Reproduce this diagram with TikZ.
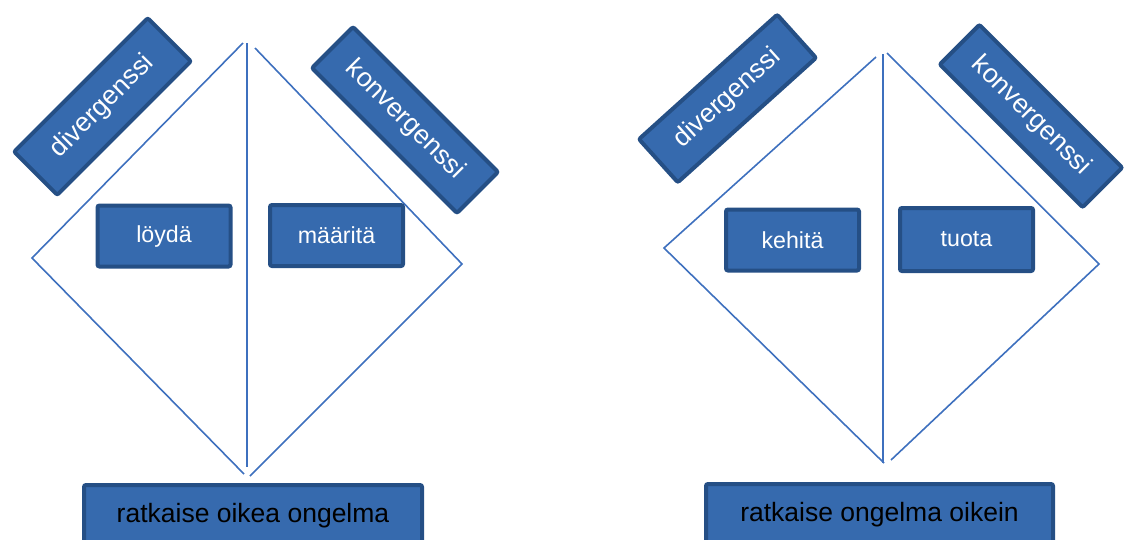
\documentclass[tikz,border=0pt]{standalone}
\usepackage{fontspec}
\setmainfont{Liberation Sans}
\definecolor{boxfill}{RGB}{54,106,174}
\definecolor{boxline}{RGB}{37,79,133}
\definecolor{dline}{RGB}{62,112,190}
\begin{document}
\begin{tikzpicture}[x=1pt,y=-1pt,
  bluebox/.style={draw=boxline,fill=boxfill,line width=4pt,rounded corners=2pt,
    inner sep=0pt,text=white,align=center},
  tiltbox/.style={bluebox,font=\fontsize{26.5}{30}\selectfont},
  smallbox/.style={bluebox,font=\fontsize{23.2}{27}\selectfont,minimum width=133pt,minimum height=61pt},
  goalbox/.style={bluebox,text=black,font=\fontsize{26.5}{30}\selectfont,minimum height=62pt},
  dl/.style={draw=dline,line width=1.6pt}]
\useasboundingbox (0,0) rectangle (1125,539);
\clip (0,0) rectangle (1125,539);
% left diamond
\coordinate (aT1) at (243,43);
\coordinate (aL) at (32,258);
\coordinate (aB1) at (244,474);
\coordinate (aVt) at (247,43);
\coordinate (aVb) at (247,467);
\coordinate (aT2) at (255,48);
\coordinate (aR) at (462,264);
\coordinate (aB2) at (250,476);
\draw[dl] (aT1) -- (aL) -- (aB1);
\draw[dl] (aVt) -- (aVb);
\draw[dl] (aT2) -- (aR) -- (aB2);
% right diamond
\coordinate (bT1) at (876,57);
\coordinate (bL) at (664,248);
\coordinate (bB1) at (884,463);
\coordinate (bVt) at (883,54);
\coordinate (bVb) at (883,463);
\coordinate (bT2) at (887,53);
\coordinate (bR) at (1099,264);
\coordinate (bB2) at (891,460);
\draw[dl] (bT1) -- (bL) -- (bB1);
\draw[dl] (bVt) -- (bVb);
\draw[dl] (bT2) -- (bR) -- (bB2);
% tilted boxes
\node[tiltbox,rotate=45,minimum width=189pt,minimum height=61pt] (adiv) at (102.5,106.5) {divergenssi};
\node[tiltbox,rotate=-45,minimum width=205pt,minimum height=58pt] (akon) at (405,120) {konvergenssi};
\node[tiltbox,rotate=42,minimum width=186pt,minimum height=58pt] (bdiv) at (727.5,98.5) {divergenssi};
\node[tiltbox,rotate=-45,minimum width=202pt,minimum height=56pt] (bkon) at (1031,116) {konvergenssi};
% small boxes
\node[smallbox] (loyda) at (164,236) {löydä};
\node[smallbox] (maarita) at (336.5,235.5) {määritä};
\node[smallbox] (kehita) at (792.5,240) {kehitä};
\node[smallbox,minimum height=63pt] (tuota) at (966.5,239.5) {tuota};
% goal boxes
\node[goalbox,minimum width=338pt] (agoal) at (253,516) {ratkaise oikea ongelma};
\node[goalbox,minimum width=347pt] (bgoal) at (879.5,515) {ratkaise ongelma oikein};
\end{tikzpicture}
\end{document}
